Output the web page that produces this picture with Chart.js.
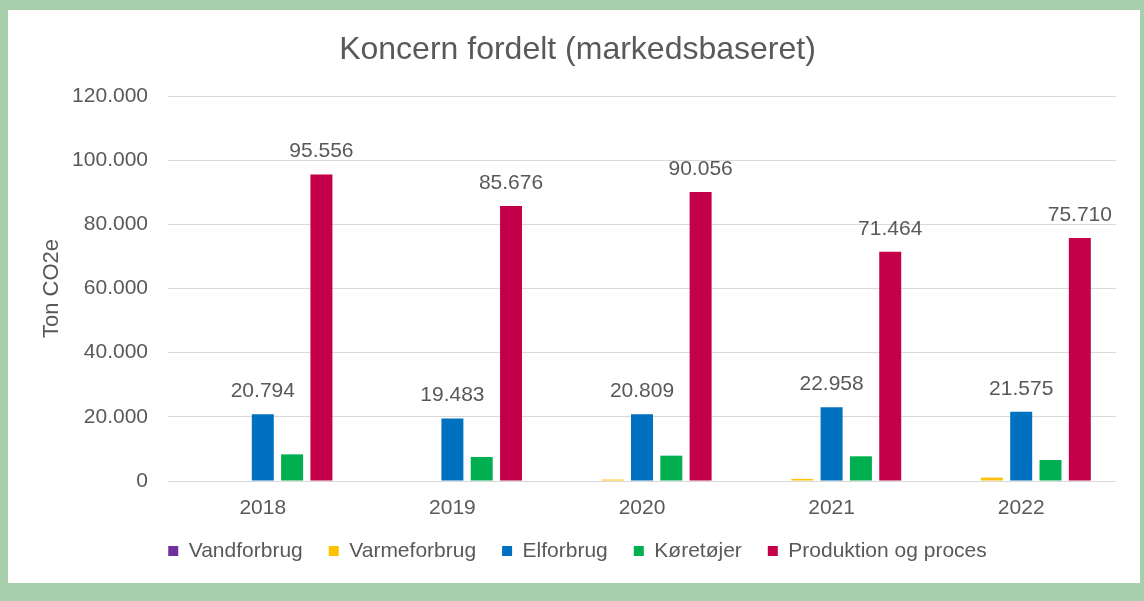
<!DOCTYPE html>
<html>
<head>
<meta charset="utf-8">
<script src="https://cdn.jsdelivr.net/npm/chart.js@4/dist/chart.umd.min.js"></script>
<style>
  html, body { margin: 0; padding: 0; }
  body { width: 1144px; height: 601px; background: #a8cfab; position: relative; overflow: hidden; }
  #panel { position: absolute; left: 8px; top: 10px; width: 1132px; height: 573px; background: #ffffff; }
  canvas { display: block; }
</style>
</head>
<body>
<div id="panel"><canvas id="c" width="1132" height="573"></canvas></div>
<script>
const categories = ['2018', '2019', '2020', '2021', '2022'];
const vandforbrug = [0, 0, 0, 0, 0];
const varmeforbrug = [0, 0, 450, 650, 1050];
const elforbrug = [20794, 19483, 20809, 22958, 21575];
const koeretoejer = [8300, 7500, 7900, 7700, 6550];
const produktion = [95556, 85676, 90056, 71464, 75710];
const yTicks = [0, 20000, 40000, 60000, 80000, 100000, 120000];

const TEXT = '#595959';
const FONT = "'Liberation Sans', Arial, sans-serif";

function fmt(v) {
  return String(Math.round(v)).replace(/\B(?=(\d{3})+(?!\d))/g, '.');
}

const labelPlugin = {
  id: 'valueLabels',
  afterDatasetsDraw(chart) {
    const ctx = chart.ctx;
    ctx.save();
    ctx.font = '21px ' + FONT;
    ctx.fillStyle = TEXT;
    ctx.textAlign = 'center';
    ctx.textBaseline = 'middle';
    [2, 4].forEach(di => {
      const meta = chart.getDatasetMeta(di);
      meta.data.forEach((bar, i) => {
        const v = chart.data.datasets[di].data[i];
        ctx.fillText(fmt(v), bar.x, bar.y - 23);
      });
    });
    ctx.restore();
  }
};

new Chart(document.getElementById('c'), {
  type: 'bar',
  data: {
    labels: categories,
    datasets: [
      { label: 'Vandforbrug', data: vandforbrug, backgroundColor: '#7030a0' },
      { label: 'Varmeforbrug', data: varmeforbrug, backgroundColor: '#ffc000' },
      { label: 'Elforbrug', data: elforbrug, backgroundColor: '#0070c0' },
      { label: 'Køretøjer', data: koeretoejer, backgroundColor: '#00b050' },
      { label: 'Produktion og proces', data: produktion, backgroundColor: '#c5004b' }
    ]
  },
  options: {
    responsive: false,
    animation: false,
    devicePixelRatio: 1,
    datasets: { bar: { categoryPercentage: 0.773, barPercentage: 0.75 } },
    layout: { padding: { left: 31, right: 24, top: 21, bottom: 11.5 } },
    plugins: {
      tooltip: { enabled: false },
      title: {
        display: true,
        text: 'Koncern fordelt (markedsbaseret)',
        color: TEXT,
        font: { family: FONT, size: 32, weight: 'normal', lineHeight: 1.2 },
        padding: { top: 0, bottom: 26.6 }
      },
      legend: {
        position: 'bottom',
        labels: {
          color: TEXT,
          font: { family: FONT, size: 21 },
          boxWidth: 10,
          boxHeight: 10,
          padding: 26
        }
      }
    },
    scales: {
      x: {
        grid: { display: false, drawTicks: false },
        border: { display: false },
        ticks: { color: TEXT, font: { family: FONT, size: 21 }, padding: 14.4 },
        afterFit(scale) { scale.height = 33.5; }
      },
      y: {
        min: 0,
        max: 120000,
        afterBuildTicks(scale) { scale.ticks = yTicks.map(v => ({ value: v })); },
        grid: { color: '#d9d9d9', lineWidth: 1, drawTicks: false },
        border: { display: false },
        ticks: { color: TEXT, font: { family: FONT, size: 21 }, padding: 20, callback: v => fmt(v) },
        title: {
          display: true,
          text: 'Ton CO2e',
          color: TEXT,
          font: { family: FONT, size: 22 },
          padding: 0
        },
        afterFit(scale) { scale.width = 129; }
      }
    }
  },
  plugins: [labelPlugin]
});
</script>
</body>
</html>
